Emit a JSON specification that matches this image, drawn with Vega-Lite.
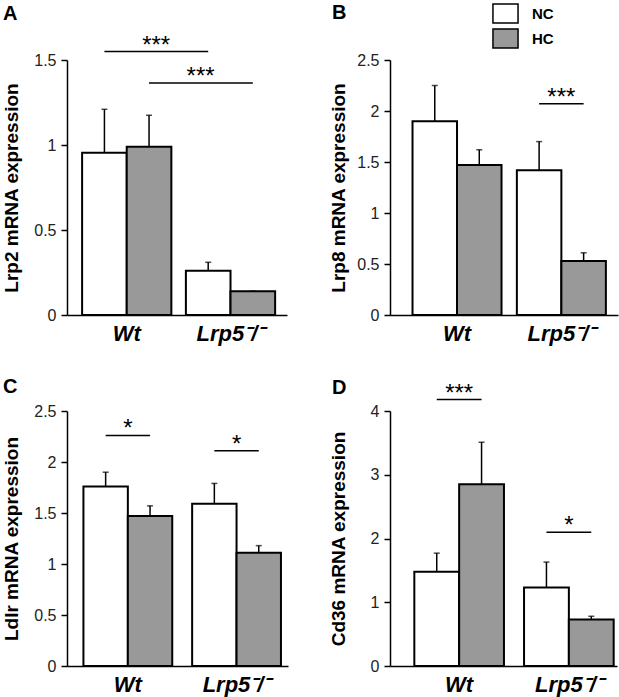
{
  "$schema": "https://vega.github.io/schema/vega-lite/v6.json",
  "autosize": {"type": "none"},
  "padding": {"left": 67, "top": 60, "right": 552, "bottom": 637},
  "background": "white",
  "config": {
    "font": "Liberation Sans",
    "view": {"stroke": null},
    "axis": {"grid": false, "domainColor": "black", "domainWidth": 1.5, "tickColor": "black", "tickWidth": 1.5, "labelColor": "#222222", "titleColor": "black"},
    "axisY": {"tickSize": 6, "labelPadding": 5, "labelFontSize": 16, "format": "~g", "titleFontSize": 19, "titleFontWeight": "bold", "titleBaseline": "alphabetic", "titleX": -50},
    "axisX": {"ticks": false, "labelAngle": 0, "labelFontSize": 22, "labelFontWeight": "bold", "labelFontStyle": "italic", "labelPadding": 8, "labelColor": "black", "title": null},
    "title": {"anchor": "start", "frame": "group", "fontSize": 20, "fontWeight": "bold", "baseline": "alphabetic", "color": "black"}
  },
  "datasets": {
    "bars": [
      {"panel": "A", "genotype": "Wt", "diet": "NC", "mean": 0.955, "upper": 1.21},
      {"panel": "A", "genotype": "Wt", "diet": "HC", "mean": 0.99, "upper": 1.175},
      {"panel": "A", "genotype": "Lrp5⁻/⁻", "diet": "NC", "mean": 0.26, "upper": 0.31},
      {"panel": "A", "genotype": "Lrp5⁻/⁻", "diet": "HC", "mean": 0.14, "upper": 0.14},
      {"panel": "B", "genotype": "Wt", "diet": "NC", "mean": 1.9, "upper": 2.25},
      {"panel": "B", "genotype": "Wt", "diet": "HC", "mean": 1.47, "upper": 1.62},
      {"panel": "B", "genotype": "Lrp5⁻/⁻", "diet": "NC", "mean": 1.42, "upper": 1.7},
      {"panel": "B", "genotype": "Lrp5⁻/⁻", "diet": "HC", "mean": 0.53, "upper": 0.61},
      {"panel": "C", "genotype": "Wt", "diet": "NC", "mean": 1.76, "upper": 1.9},
      {"panel": "C", "genotype": "Wt", "diet": "HC", "mean": 1.47, "upper": 1.57},
      {"panel": "C", "genotype": "Lrp5⁻/⁻", "diet": "NC", "mean": 1.59, "upper": 1.79},
      {"panel": "C", "genotype": "Lrp5⁻/⁻", "diet": "HC", "mean": 1.11, "upper": 1.18},
      {"panel": "D", "genotype": "Wt", "diet": "NC", "mean": 1.48, "upper": 1.77},
      {"panel": "D", "genotype": "Wt", "diet": "HC", "mean": 2.85, "upper": 3.51},
      {"panel": "D", "genotype": "Lrp5⁻/⁻", "diet": "NC", "mean": 1.23, "upper": 1.63},
      {"panel": "D", "genotype": "Lrp5⁻/⁻", "diet": "HC", "mean": 0.73, "upper": 0.78}
    ],
    "sig": [
      {"panel": "A", "comp": "a1", "genotype": "Wt", "diet": "NC", "level": 1.55},
      {"panel": "A", "comp": "a1", "genotype": "Lrp5⁻/⁻", "diet": "NC", "level": 1.55},
      {"panel": "A", "comp": "a2", "genotype": "Wt", "diet": "HC", "level": 1.365},
      {"panel": "A", "comp": "a2", "genotype": "Lrp5⁻/⁻", "diet": "HC", "level": 1.365},
      {"panel": "B", "comp": "b1", "genotype": "Lrp5⁻/⁻", "diet": "NC", "level": 2.07},
      {"panel": "B", "comp": "b1", "genotype": "Lrp5⁻/⁻", "diet": "HC", "level": 2.07},
      {"panel": "C", "comp": "c1", "genotype": "Wt", "diet": "NC", "level": 2.26},
      {"panel": "C", "comp": "c1", "genotype": "Wt", "diet": "HC", "level": 2.26},
      {"panel": "C", "comp": "c2", "genotype": "Lrp5⁻/⁻", "diet": "NC", "level": 2.11},
      {"panel": "C", "comp": "c2", "genotype": "Lrp5⁻/⁻", "diet": "HC", "level": 2.11},
      {"panel": "D", "comp": "d1", "genotype": "Wt", "diet": "NC", "level": 4.18},
      {"panel": "D", "comp": "d1", "genotype": "Wt", "diet": "HC", "level": 4.18},
      {"panel": "D", "comp": "d2", "genotype": "Lrp5⁻/⁻", "diet": "NC", "level": 2.1},
      {"panel": "D", "comp": "d2", "genotype": "Lrp5⁻/⁻", "diet": "HC", "level": 2.1}
    ],
    "stars": [
      {"panel": "A", "comp": "a1", "genotype": "Wt", "level": 1.55, "label": "***"},
      {"panel": "A", "comp": "a2", "genotype": "Lrp5⁻/⁻", "level": 1.365, "label": "***"},
      {"panel": "B", "comp": "b1", "genotype": "Lrp5⁻/⁻", "level": 2.07, "label": "***"},
      {"panel": "C", "comp": "c1", "genotype": "Wt", "level": 2.26, "label": "*"},
      {"panel": "C", "comp": "c2", "genotype": "Lrp5⁻/⁻", "level": 2.11, "label": "*"},
      {"panel": "D", "comp": "d1", "genotype": "Wt", "level": 4.18, "label": "***"},
      {"panel": "D", "comp": "d2", "genotype": "Lrp5⁻/⁻", "level": 2.1, "label": "*"}
    ]
  },
  "columns": 2,
  "spacing": {"row": 96, "column": 102},
  "bounds": "flush",
  "resolve": {"scale": {"fill": "independent", "x": "independent", "y": "independent", "xOffset": "independent"}},
  "concat": [
    {
      "width": 220, "height": 255,
      "title": {"text": "A", "dx": -64, "offset": 10},
      "layer": [
        {"data": {"name": "bars"}, "transform": [{"filter": "datum.panel == 'A'"}],
         "mark": {"type": "bar", "stroke": "black", "strokeWidth": 2},
         "encoding": {
           "x": {"field": "genotype", "type": "nominal", "sort": null, "scale": {"domain": ["Wt", "Lrp5⁻/⁻"], "paddingInner": 0.14, "paddingOuter": 0.13, "align": 0.56}},
           "xOffset": {"field": "diet", "type": "nominal", "scale": {"domain": ["NC", "HC"], "paddingInner": 0, "paddingOuter": 0}},
           "y": {"field": "mean", "type": "quantitative", "scale": {"domain": [0, 1.5], "nice": false}, "axis": {"values": [0, 0.5, 1, 1.5], "title": "Lrp2 mRNA expression"}},
           "fill": {"field": "diet", "type": "nominal", "scale": {"domain": ["NC", "HC"], "range": ["white", "#999999"]}, "legend": null}
         }},
        {"data": {"name": "bars"}, "transform": [{"filter": "datum.panel == 'A'"}],
         "mark": {"type": "rule", "color": "black", "strokeWidth": 1.5},
         "encoding": {
           "x": {"field": "genotype", "type": "nominal"},
           "xOffset": {"field": "diet", "type": "nominal"},
           "y": {"field": "mean", "type": "quantitative"},
           "y2": {"field": "upper"}
         }},
        {"data": {"name": "bars"}, "transform": [{"filter": "datum.panel == 'A'"}],
         "mark": {"type": "tick", "orient": "horizontal", "color": "black", "thickness": 1.5, "size": 6},
         "encoding": {
           "x": {"field": "genotype", "type": "nominal"},
           "xOffset": {"field": "diet", "type": "nominal"},
           "y": {"field": "upper", "type": "quantitative"}
         }},
        {"data": {"name": "sig"}, "transform": [{"filter": "datum.panel == 'A'"}],
         "mark": {"type": "line", "color": "black", "strokeWidth": 1.5},
         "encoding": {
           "x": {"field": "genotype", "type": "nominal"},
           "xOffset": {"field": "diet", "type": "nominal"},
           "y": {"field": "level", "type": "quantitative"},
           "detail": {"field": "comp"}
         }},
        {"data": {"name": "stars"}, "transform": [{"filter": "datum.comp == 'a1'"}],
         "mark": {"type": "text", "fontSize": 24, "baseline": "alphabetic", "dy": 1, "color": "black"},
         "encoding": {
           "x": {"field": "genotype", "type": "nominal", "bandPosition": 0.83},
           "y": {"field": "level", "type": "quantitative"},
           "text": {"field": "label"}
         }},
        {"data": {"name": "stars"}, "transform": [{"filter": "datum.comp == 'a2'"}],
         "mark": {"type": "text", "fontSize": 24, "baseline": "alphabetic", "dy": 1, "color": "black"},
         "encoding": {
           "x": {"field": "genotype", "type": "nominal", "bandPosition": 0.165},
           "y": {"field": "level", "type": "quantitative"},
           "text": {"field": "label"}
         }}
      ]
    },
    {
      "width": 228, "height": 255,
      "title": {"text": "B", "dx": -58, "offset": -20},
      "layer": [
        {"data": {"name": "bars"}, "transform": [{"filter": "datum.panel == 'B'"}],
         "mark": {"type": "bar", "stroke": "black", "strokeWidth": 2},
         "encoding": {
           "x": {"field": "genotype", "type": "nominal", "sort": null, "scale": {"domain": ["Wt", "Lrp5⁻/⁻"], "paddingInner": 0.147, "paddingOuter": 0.166, "align": 0.65}},
           "xOffset": {"field": "diet", "type": "nominal", "scale": {"domain": ["NC", "HC"], "paddingInner": 0, "paddingOuter": 0}},
           "y": {"field": "mean", "type": "quantitative", "scale": {"domain": [0, 2.5], "nice": false}, "axis": {"values": [0, 0.5, 1, 1.5, 2, 2.5], "title": "Lrp8 mRNA expression", "titleX": -46}},
           "fill": {"field": "diet", "type": "nominal", "scale": {"domain": ["NC", "HC"], "range": ["white", "#999999"]},
             "legend": {"orient": "none", "legendX": 105, "legendY": -57, "title": null, "padding": 0, "rowPadding": 0,
               "symbolType": "M-1.32,-1H1.32V1H-1.32Z", "symbolSize": 361, "symbolStrokeColor": "black", "symbolStrokeWidth": 1.5,
               "labelFontSize": 15, "labelFontWeight": "bold", "labelColor": "black", "labelOffset": 16}}
         }},
        {"data": {"name": "bars"}, "transform": [{"filter": "datum.panel == 'B'"}],
         "mark": {"type": "rule", "color": "black", "strokeWidth": 1.5},
         "encoding": {
           "x": {"field": "genotype", "type": "nominal"},
           "xOffset": {"field": "diet", "type": "nominal"},
           "y": {"field": "mean", "type": "quantitative"},
           "y2": {"field": "upper"}
         }},
        {"data": {"name": "bars"}, "transform": [{"filter": "datum.panel == 'B'"}],
         "mark": {"type": "tick", "orient": "horizontal", "color": "black", "thickness": 1.5, "size": 6},
         "encoding": {
           "x": {"field": "genotype", "type": "nominal"},
           "xOffset": {"field": "diet", "type": "nominal"},
           "y": {"field": "upper", "type": "quantitative"}
         }},
        {"data": {"name": "sig"}, "transform": [{"filter": "datum.panel == 'B'"}],
         "mark": {"type": "line", "color": "black", "strokeWidth": 1.5},
         "encoding": {
           "x": {"field": "genotype", "type": "nominal"},
           "xOffset": {"field": "diet", "type": "nominal"},
           "y": {"field": "level", "type": "quantitative"},
           "detail": {"field": "comp"}
         }},
        {"data": {"name": "stars"}, "transform": [{"filter": "datum.panel == 'B'"}],
         "mark": {"type": "text", "fontSize": 24, "baseline": "alphabetic", "dy": 1, "color": "black"},
         "encoding": {
           "x": {"field": "genotype", "type": "nominal"},
           "y": {"field": "level", "type": "quantitative"},
           "text": {"field": "label"}
         }}
      ]
    },
    {
      "width": 221, "height": 255,
      "title": {"text": "C", "dx": -64, "offset": 6},
      "layer": [
        {"data": {"name": "bars"}, "transform": [{"filter": "datum.panel == 'C'"}],
         "mark": {"type": "bar", "stroke": "black", "strokeWidth": 2},
         "encoding": {
           "x": {"field": "genotype", "type": "nominal", "sort": null, "scale": {"domain": ["Wt", "Lrp5⁻/⁻"], "paddingInner": 0.183, "paddingOuter": 0.108, "align": 0.7}},
           "xOffset": {"field": "diet", "type": "nominal", "scale": {"domain": ["NC", "HC"], "paddingInner": 0, "paddingOuter": 0}},
           "y": {"field": "mean", "type": "quantitative", "scale": {"domain": [0, 2.5], "nice": false}, "axis": {"values": [0, 0.5, 1, 1.5, 2, 2.5], "title": "Ldlr mRNA expression"}},
           "fill": {"field": "diet", "type": "nominal", "scale": {"domain": ["NC", "HC"], "range": ["white", "#999999"]}, "legend": null}
         }},
        {"data": {"name": "bars"}, "transform": [{"filter": "datum.panel == 'C'"}],
         "mark": {"type": "rule", "color": "black", "strokeWidth": 1.5},
         "encoding": {
           "x": {"field": "genotype", "type": "nominal"},
           "xOffset": {"field": "diet", "type": "nominal"},
           "y": {"field": "mean", "type": "quantitative"},
           "y2": {"field": "upper"}
         }},
        {"data": {"name": "bars"}, "transform": [{"filter": "datum.panel == 'C'"}],
         "mark": {"type": "tick", "orient": "horizontal", "color": "black", "thickness": 1.5, "size": 6},
         "encoding": {
           "x": {"field": "genotype", "type": "nominal"},
           "xOffset": {"field": "diet", "type": "nominal"},
           "y": {"field": "upper", "type": "quantitative"}
         }},
        {"data": {"name": "sig"}, "transform": [{"filter": "datum.panel == 'C'"}],
         "mark": {"type": "line", "color": "black", "strokeWidth": 1.5},
         "encoding": {
           "x": {"field": "genotype", "type": "nominal"},
           "xOffset": {"field": "diet", "type": "nominal"},
           "y": {"field": "level", "type": "quantitative"},
           "detail": {"field": "comp"}
         }},
        {"data": {"name": "stars"}, "transform": [{"filter": "datum.panel == 'C'"}],
         "mark": {"type": "text", "fontSize": 24, "baseline": "alphabetic", "dy": 1, "color": "black"},
         "encoding": {
           "x": {"field": "genotype", "type": "nominal"},
           "y": {"field": "level", "type": "quantitative"},
           "text": {"field": "label"}
         }}
      ]
    },
    {
      "width": 227, "height": 255,
      "title": {"text": "D", "dx": -58, "offset": -16},
      "layer": [
        {"data": {"name": "bars"}, "transform": [{"filter": "datum.panel == 'D'"}],
         "mark": {"type": "bar", "stroke": "black", "strokeWidth": 2},
         "encoding": {
           "x": {"field": "genotype", "type": "nominal", "sort": null, "scale": {"domain": ["Wt", "Lrp5⁻/⁻"], "paddingInner": 0.183, "paddingOuter": 0.126, "align": 0.88}},
           "xOffset": {"field": "diet", "type": "nominal", "scale": {"domain": ["NC", "HC"], "paddingInner": 0, "paddingOuter": 0}},
           "y": {"field": "mean", "type": "quantitative", "scale": {"domain": [0, 4], "nice": false}, "axis": {"values": [0, 1, 2, 3, 4], "title": "Cd36 mRNA expression", "titleX": -46}},
           "fill": {"field": "diet", "type": "nominal", "scale": {"domain": ["NC", "HC"], "range": ["white", "#999999"]}, "legend": null}
         }},
        {"data": {"name": "bars"}, "transform": [{"filter": "datum.panel == 'D'"}],
         "mark": {"type": "rule", "color": "black", "strokeWidth": 1.5},
         "encoding": {
           "x": {"field": "genotype", "type": "nominal"},
           "xOffset": {"field": "diet", "type": "nominal"},
           "y": {"field": "mean", "type": "quantitative"},
           "y2": {"field": "upper"}
         }},
        {"data": {"name": "bars"}, "transform": [{"filter": "datum.panel == 'D'"}],
         "mark": {"type": "tick", "orient": "horizontal", "color": "black", "thickness": 1.5, "size": 6},
         "encoding": {
           "x": {"field": "genotype", "type": "nominal"},
           "xOffset": {"field": "diet", "type": "nominal"},
           "y": {"field": "upper", "type": "quantitative"}
         }},
        {"data": {"name": "sig"}, "transform": [{"filter": "datum.panel == 'D'"}],
         "mark": {"type": "line", "color": "black", "strokeWidth": 1.5},
         "encoding": {
           "x": {"field": "genotype", "type": "nominal"},
           "xOffset": {"field": "diet", "type": "nominal"},
           "y": {"field": "level", "type": "quantitative"},
           "detail": {"field": "comp"}
         }},
        {"data": {"name": "stars"}, "transform": [{"filter": "datum.panel == 'D'"}],
         "mark": {"type": "text", "fontSize": 24, "baseline": "alphabetic", "dy": 1, "color": "black"},
         "encoding": {
           "x": {"field": "genotype", "type": "nominal"},
           "y": {"field": "level", "type": "quantitative"},
           "text": {"field": "label"}
         }}
      ]
    }
  ]
}
